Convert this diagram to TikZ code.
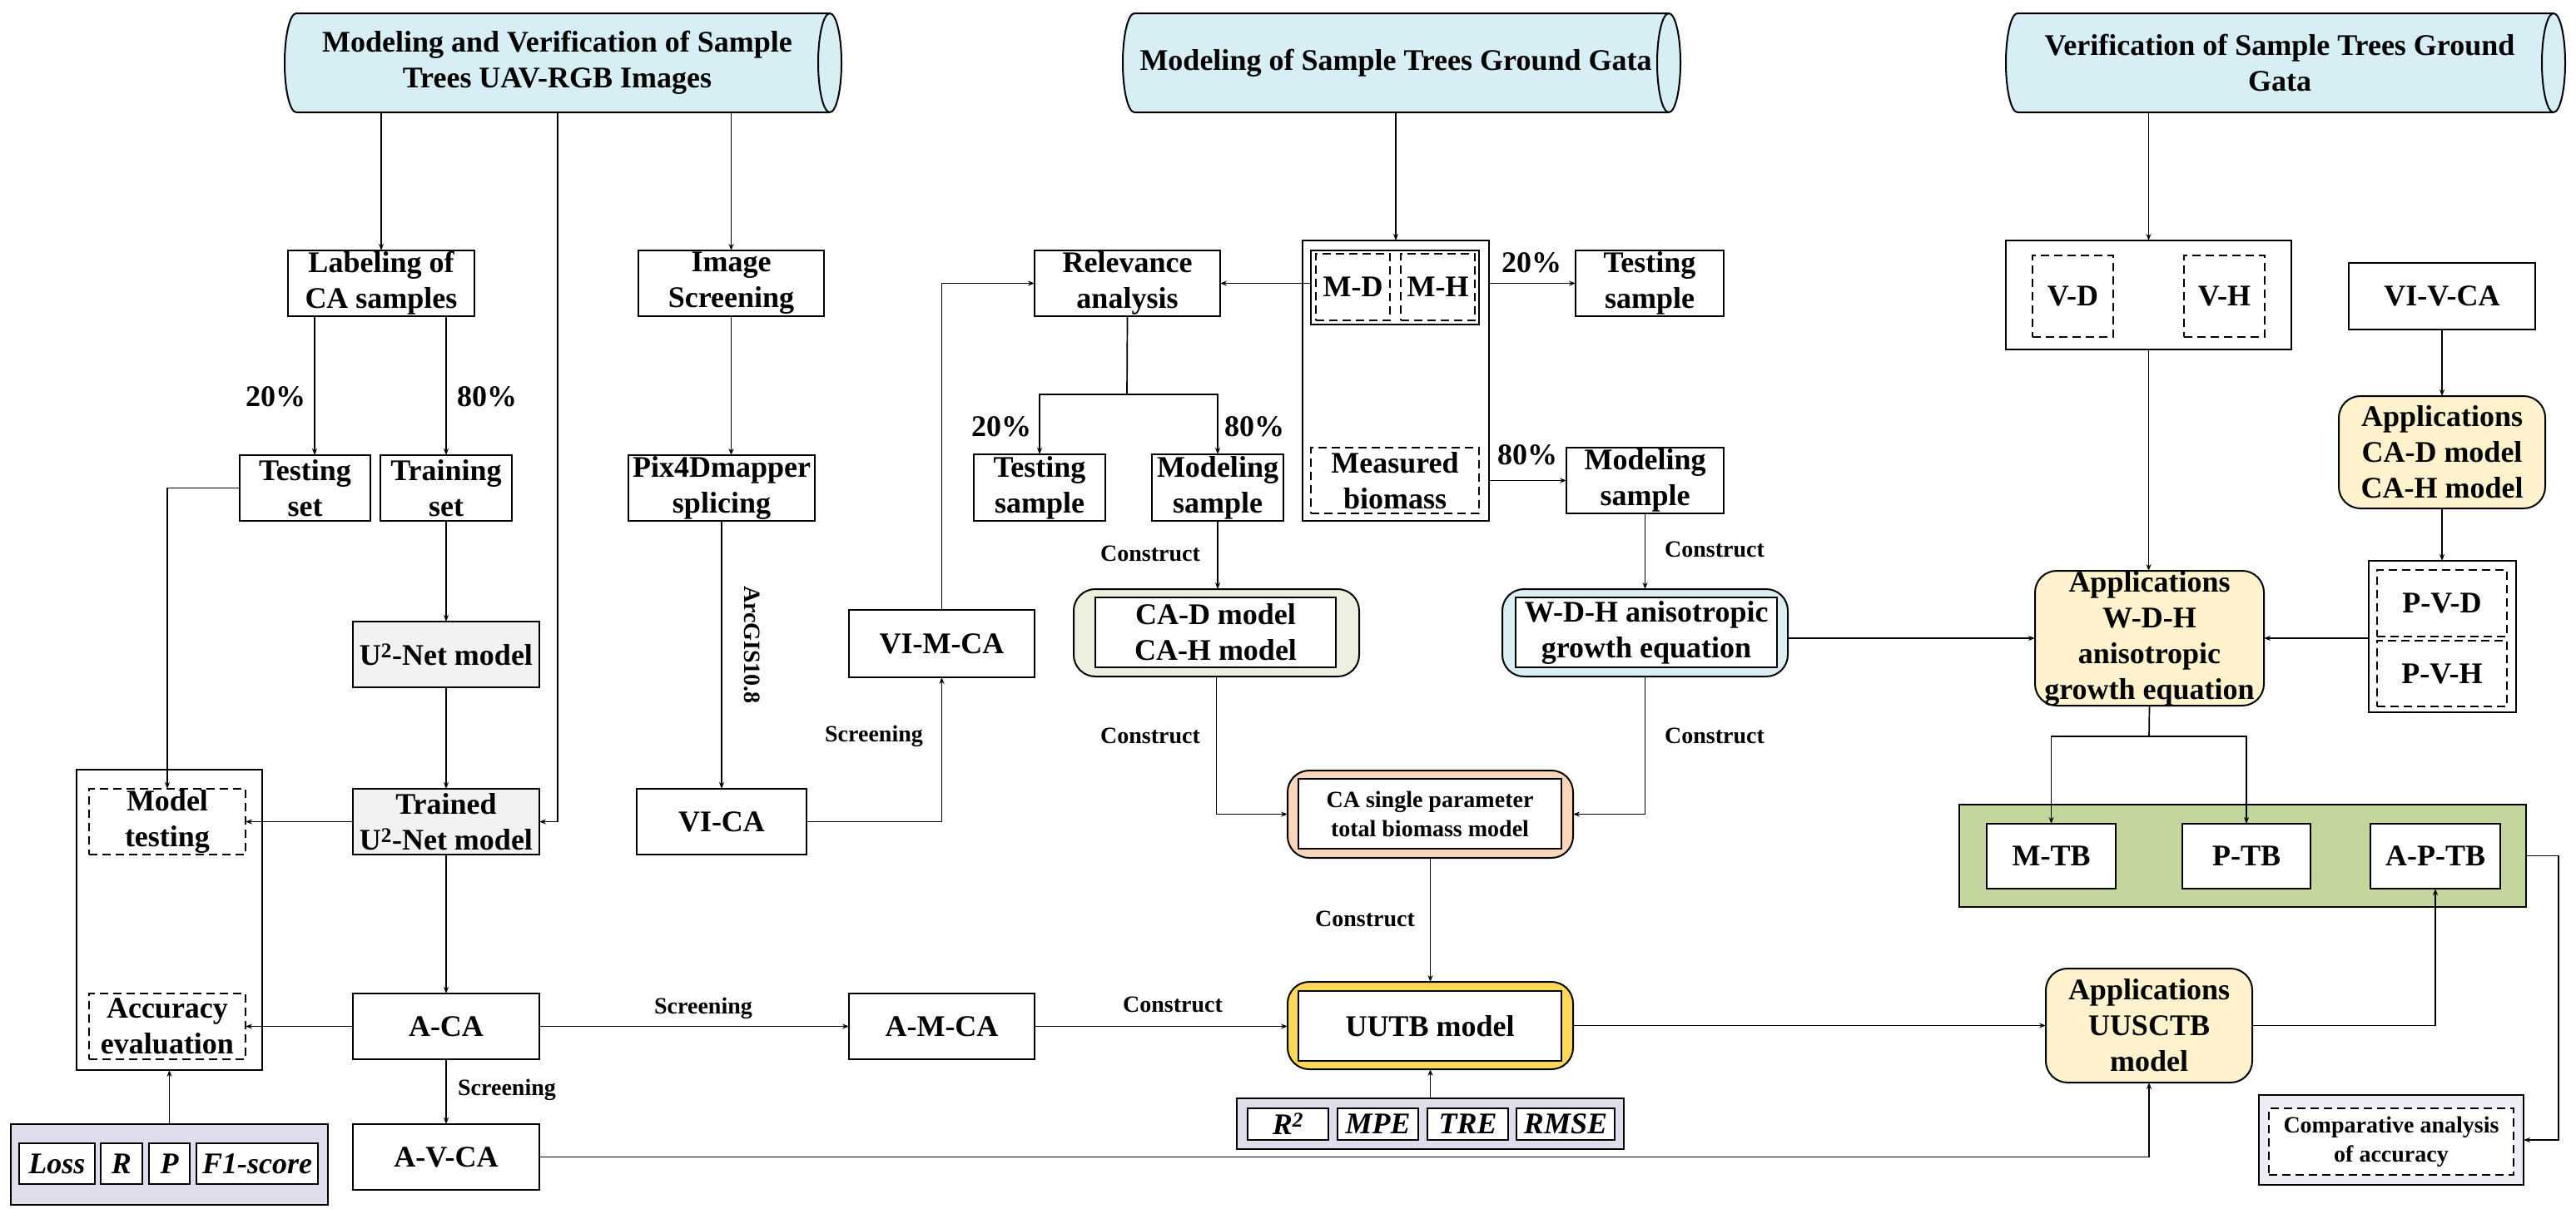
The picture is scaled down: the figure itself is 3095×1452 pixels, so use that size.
\documentclass[tikz,border=0pt]{standalone}
\usepackage{fontspec}
\setmainfont{Liberation Serif}
\usetikzlibrary{arrows.meta}
\definecolor{cylc}{HTML}{D6EEF4}
\definecolor{grayb}{HTML}{F2F2F2}
\definecolor{greenl}{HTML}{EBF1DE}
\definecolor{bluel}{HTML}{DAEEF3}
\definecolor{peach}{HTML}{FCD6BA}
\definecolor{gold}{HTML}{FFD858}
\definecolor{appy}{HTML}{FFF2CC}
\definecolor{greenb}{HTML}{C3D69B}
\definecolor{lav}{HTML}{E0DCEB}
\definecolor{lavl}{HTML}{EEECF4}
\tikzset{
 every node/.style={inner sep=0pt, outer sep=0pt},
 bx/.style={draw, line width=2pt, fill=white, align=center, font=\fontsize{36}{43}\selectfont\bfseries},
 dbx/.style={bx, dash pattern=on 10pt off 6pt, line width=1.7pt},
 rbx/.style={bx, rounded corners=26pt},
 lbl/.style={font=\fontsize{28}{34}\selectfont\bfseries},
 pct/.style={font=\fontsize{36}{43}\selectfont\bfseries},
 smallbx/.style={bx, font=\fontsize{28}{35}\selectfont\bfseries},
 italbx/.style={bx, font=\fontsize{36}{43}\selectfont\bfseries\itshape},
 arr/.style={-{Stealth[length=8pt,width=6pt]}, line width=1.7pt},
 ln/.style={line width=1.7pt},
}
\newcommand{\BX}[7]{\node[#6, minimum width={#4-#2}, minimum height={#5-#3}] (#1) at ({(#2+#4)/2},{(#3+#5)/2}) {#7};}
\newcommand{\CYL}[6]{%
 \pgfmathsetmacro{\Cxl}{#2}\pgfmathsetmacro{\Cxla}{#2+14}\pgfmathsetmacro{\Cxlc}{#2+14-0.5523*14}%
 \pgfmathsetmacro{\Cxr}{#4}\pgfmathsetmacro{\Cxra}{#4-14}\pgfmathsetmacro{\Cxrc}{#4-14+0.5523*14}%
 \pgfmathsetmacro{\Cxrb}{#4-28}\pgfmathsetmacro{\Cxric}{#4-14-0.5523*14}%
 \pgfmathsetmacro{\Cyt}{#3}\pgfmathsetmacro{\Cyb}{#5}\pgfmathsetmacro{\Cym}{(#3+#5)/2}%
 \pgfmathsetmacro{\Cytc}{\Cym-0.5523*(#5-#3)/2}\pgfmathsetmacro{\Cybc}{\Cym+0.5523*(#5-#3)/2}%
 \filldraw[fill=cylc, line width=2pt] (\Cxla,\Cyt) -- (\Cxra,\Cyt) .. controls (\Cxrc,\Cyt) and (\Cxr,\Cytc) .. (\Cxr,\Cym) .. controls (\Cxr,\Cybc) and (\Cxrc,\Cyb) .. (\Cxra,\Cyb) -- (\Cxla,\Cyb) .. controls (\Cxlc,\Cyb) and (\Cxl,\Cybc) .. (\Cxl,\Cym) .. controls (\Cxl,\Cytc) and (\Cxlc,\Cyt) .. cycle;
 \draw[line width=2pt] (\Cxra,\Cyt) .. controls (\Cxric,\Cyt) and (\Cxrb,\Cytc) .. (\Cxrb,\Cym) .. controls (\Cxrb,\Cybc) and (\Cxric,\Cyb) .. (\Cxra,\Cyb);
 \node[font=\fontsize{36}{43}\selectfont\bfseries, align=center, minimum width={#4-#2-28}, minimum height={#5-#3}] (#1) at ({(#2+#4)/2-7},\Cym) {#6};
}
\begin{document}
\begin{tikzpicture}[x=1pt,y=-1pt]
\useasboundingbox[fill=white] (0,0) rectangle (3095,1452);
% ---------- cylinders
\CYL{cylA}{342}{16}{1011}{135}{Modeling and Verification of Sample\\Trees UAV-RGB Images}
\CYL{cylB}{1349}{16}{2019}{135}{Modeling of Sample Trees Ground Gata}
\CYL{cylC}{2410}{16}{3082}{135}{Verification of Sample Trees Ground\\Gata}
% ---------- left column
\BX{lab}{346}{301}{570}{380}{bx}{Labeling of\\CA samples}
\BX{imgs}{767}{301}{990}{380}{bx}{Image\\Screening}
\BX{tset}{288}{547}{445}{626}{bx}{Testing\\set}
\BX{trset}{457}{547}{615}{626}{bx}{Training\\set}
\BX{pix}{755}{547}{979}{626}{bx}{Pix4Dmapper\\splicing}
\BX{unet}{424}{747}{648}{826}{bx,fill=grayb}{U\textsuperscript{2}-Net model}
\BX{tunet}{424}{948}{648}{1027}{bx,fill=grayb}{Trained\\U\textsuperscript{2}-Net model}
\BX{bigL}{92}{925}{315}{1286}{bx}{}
\BX{mtest}{107}{948}{295}{1027}{dbx}{Model\\testing}
\BX{acce}{107}{1194}{295}{1273}{dbx}{Accuracy\\evaluation}
\BX{aca}{424}{1194}{648}{1273}{bx}{A-CA}
\BX{avca}{424}{1351}{648}{1430}{bx}{A-V-CA}
\BX{met1}{13}{1351}{394}{1448}{bx,fill=lav}{}
\BX{mloss}{23}{1374}{114}{1423}{italbx}{Loss}
\BX{mr}{121}{1374}{171}{1423}{italbx}{R}
\BX{mp}{179}{1374}{228}{1423}{italbx}{P}
\BX{mf}{236}{1374}{382}{1423}{italbx}{F1-score}
\BX{vica}{765}{948}{969}{1027}{bx}{VI-CA}
\BX{vimca}{1020}{733}{1243}{814}{bx}{VI-M-CA}
\BX{amca}{1020}{1194}{1243}{1273}{bx}{A-M-CA}
% ---------- centre column
\BX{rel}{1243}{301}{1466}{380}{bx}{Relevance\\analysis}
\BX{mbig}{1565}{289}{1789}{626}{bx}{}
\BX{mdh}{1575}{301}{1777}{390}{bx}{}
\BX{md}{1581}{305}{1670}{385}{dbx}{M-D}
\BX{mh}{1683}{305}{1772}{385}{dbx}{M-H}
\BX{mbio}{1575}{538}{1777}{617}{dbx}{Measured\\biomass}
\BX{tsR}{1893}{301}{2071}{380}{bx}{Testing\\sample}
\BX{msR}{1882}{538}{2071}{617}{bx}{Modeling\\sample}
\BX{tsM}{1170}{546}{1328}{626}{bx}{Testing\\sample}
\BX{msM}{1384}{546}{1542}{626}{bx}{Modeling\\sample}
\BX{cadh}{1290}{708}{1633}{813}{rbx,fill=greenl}{}
\BX{cadhi}{1316}{718}{1605}{802}{bx}{CA-D model\\CA-H model}
\BX{wdh}{1805}{708}{2148}{813}{rbx,fill=bluel}{}
\BX{wdhi}{1821}{718}{2135}{802}{bx}{W-D-H anisotropic\\growth equation}
\BX{casp}{1547}{926}{1890}{1031}{rbx,fill=peach}{}
\BX{caspi}{1560}{936}{1876}{1020}{smallbx}{CA single parameter\\total biomass model}
\BX{uutb}{1547}{1180}{1890}{1285}{rbx,fill=gold}{}
\BX{uutbi}{1560}{1191}{1876}{1275}{bx}{UUTB model}
\BX{met2}{1486}{1320}{1951}{1381}{bx,fill=lav}{}
\BX{mr2}{1499}{1332}{1596}{1370}{italbx}{R\textsuperscript{2}}
\BX{mmpe}{1607}{1332}{1704}{1370}{italbx}{MPE}
\BX{mtre}{1715}{1332}{1812}{1370}{italbx}{TRE}
\BX{mrmse}{1822}{1332}{1940}{1370}{italbx}{RMSE}
% ---------- right column
\BX{vbox}{2410}{289}{2753}{420}{bx}{}
\BX{vd}{2442}{307}{2539}{405}{dbx}{V-D}
\BX{vh}{2624}{307}{2721}{405}{dbx}{V-H}
\BX{vivca}{2822}{316}{3046}{396}{bx}{VI-V-CA}
\BX{appcad}{2810}{476}{3058}{611}{rbx,fill=appy}{Applications\\CA-D model\\CA-H model}
\BX{pvbox}{2846}{674}{3023}{856}{bx}{}
\BX{pvd}{2856}{685}{3012}{765}{dbx}{P-V-D}
\BX{pvh}{2856}{770}{3012}{849}{dbx}{P-V-H}
\BX{appwdh}{2445}{686}{2720}{848}{rbx,fill=appy}{Applications\\W-D-H\\anisotropic\\growth equation}
\BX{green}{2354}{967}{3035}{1090}{bx,fill=greenb}{}
\BX{mtb}{2387}{990}{2542}{1068}{bx}{M-TB}
\BX{ptb}{2622}{990}{2776}{1068}{bx}{P-TB}
\BX{aptb}{2848}{990}{3004}{1068}{bx}{A-P-TB}
\BX{appuu}{2458}{1164}{2706}{1301}{rbx,fill=appy}{Applications\\UUSCTB\\model}
\BX{comp}{2714}{1316}{3032}{1424}{bx,fill=lavl}{}
\BX{compi}{2726}{1332}{3020}{1412}{smallbx,dash pattern=on 10pt off 6pt,line width=1.7pt}{Comparative analysis\\of accuracy}
% ---------- helper coordinates
\coordinate (xt) at (378,0);
\coordinate (rs) at (1354,474);
\coordinate (as) at (2582,885);
% ---------- connectors
\draw[arr] (cylA.south -| lab.north) -- (lab.north);
\draw[arr] ([xshift=22pt]cylA.south -| tunet.east) |- (tunet.east);
\draw[arr] (cylA.south -| imgs.north) -- (imgs.north);
\draw[arr] (lab.south -| xt) -- (tset.north -| xt);
\draw[arr] (lab.south -| trset.north) -- (trset.north);
\draw[arr] (imgs.south) -- (imgs.south |- pix.north);
\draw[arr] (pix.south) -- (pix.south |- vica.north);
\draw[arr] (trset.south) -- (trset.south |- unet.north);
\draw[arr] (unet.south) -- (tunet.north);
\draw[arr] (tunet.west) -- (mtest.east);
\draw[arr] (tset.west) -| (mtest.north);
\draw[arr] (tunet.south) -- (aca.north);
\draw[arr] (aca.west) -- (acce.east);
\draw[arr] (met1.north) -- (bigL.south);
\draw[arr] (aca.south) -- (avca.north);
\draw[arr] (aca.east) -- (amca.west);
\draw[arr] (vica.east) -| (vimca.south);
\draw[arr] (vimca.north) |- (rel.west);
\draw[arr] (cylB.south -| mbig.north) -- (mbig.north);
\draw[arr] (rel.east -| mdh.west) -- (rel.east);
\draw[arr] (tsR.west -| mbig.east) -- (tsR.west);
\draw[arr] (msR.west -| mbig.east) -- (msR.west);
\draw[ln] (rel.south) -- (rs);
\draw[arr] (rs) -| (tsM.north);
\draw[arr] (rs) -| (msM.north);
\draw[arr] (msM.south) -- (msM.south |- cadh.north);
\draw[arr] (msR.south) -- (msR.south |- wdh.north);
\draw[arr] (cadh.south) |- (casp.west);
\draw[arr] (wdh.south) |- (casp.east);
\draw[arr] (casp.south) -- (uutb.north);
\draw[arr] (amca.east) -- (amca.east -| uutb.west);
\draw[arr] (met2.north) -- (uutb.south);
\draw[arr] (uutb.east) -- (uutb.east -| appuu.west);
\draw[arr] (avca.east) -| (appuu.south);
\draw[arr] (cylC.south -| vbox.north) -- (vbox.north);
\draw[arr] (vbox.south) -- (vbox.south |- appwdh.north);
\draw[arr] (vivca.south) -- (vivca.south |- appcad.north);
\draw[arr] (appcad.south) -- (appcad.south |- pvbox.north);
\draw[arr] (pvbox.west |- appwdh.east) -- (appwdh.east);
\draw[arr] (appwdh.west -| wdh.east) -- (appwdh.west);
\draw[ln] (appwdh.south) -- (as);
\draw[arr] (as) -| (mtb.north);
\draw[arr] (as) -| (ptb.north);
\draw[arr] (appuu.east) -| (aptb.south);
\draw[arr] (green.east) -- ++(39,0) |- (comp.east);
% ---------- labels
\node[pct] (p1) at (331,477) {20\%};
\node[pct] (p2) at (585,477) {80\%};
\node[pct] (p3) at (1203,513) {20\%};
\node[pct] (p4) at (1507,513) {80\%};
\node[pct] (p5) at (1840,316) {20\%};
\node[pct] (p6) at (1835,547) {80\%};
\node[lbl, rotate=-90] (arc) at (904,775) {ArcGIS10.8};
\node[lbl] (s1) at (609,1310) {Screening};
\node[lbl] (s2) at (845,1212) {Screening};
\node[lbl] (s3) at (1050,885) {Screening};
\node[lbl] (c1) at (1382,665) {Construct};
\node[lbl] (c2) at (1382,884) {Construct};
\node[lbl] (c3) at (1640,1104) {Construct};
\node[lbl] (c4) at (1409,1207) {Construct};
\node[lbl] (c5) at (2060,660) {Construct};
\node[lbl] (c6) at (2060,884) {Construct};
\end{tikzpicture}
\end{document}
